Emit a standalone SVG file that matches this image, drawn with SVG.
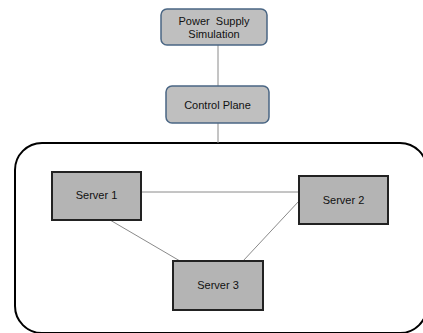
<svg xmlns="http://www.w3.org/2000/svg" width="423" height="333" viewBox="0 0 423 333">
<style>
.top{fill:#bfbfbf;stroke:#4a6684;stroke-width:1.5}
.srv{fill:#b4b4b4;stroke:#222;stroke-width:2}
.lbl{font-family:"Liberation Sans",Arial,sans-serif;font-size:11px;fill:#111;text-anchor:middle}
.con{stroke:#8a8a8a;stroke-width:1;fill:none}
</style>
<rect width="423" height="333" fill="#fff"/>
<g id="cluster">
<rect x="15" y="143" width="412" height="190" rx="27" ry="27" fill="#fff" stroke="#000" stroke-width="2"/>
</g>
<g id="connectors">
<line class="con" x1="218" y1="45" x2="218" y2="86"/>
<line class="con" x1="218" y1="123" x2="218" y2="143"/>
<line class="con" x1="141" y1="192" x2="299" y2="192"/>
<line class="con" x1="110" y1="220" x2="180" y2="261"/>
<line class="con" x1="299" y1="201" x2="243" y2="261"/>
</g>
<g id="power">
<rect class="top" x="161" y="9" width="106" height="36" rx="6"/>
<text class="lbl" x="214" y="25" xml:space="preserve">Power  Supply</text>
<text class="lbl" x="214" y="38">Simulation</text>
</g>
<g id="control">
<rect class="top" x="166" y="86" width="103" height="37" rx="6"/>
<text class="lbl" x="217.5" y="109">Control Plane</text>
</g>
<g id="server1">
<rect class="srv" x="52" y="172" width="89" height="48"/>
<text class="lbl" x="96.5" y="199">Server 1</text>
</g>
<g id="server2">
<rect class="srv" x="299" y="176" width="89" height="48"/>
<text class="lbl" x="343.5" y="204">Server 2</text>
</g>
<g id="server3">
<rect class="srv" x="173" y="261" width="90" height="49"/>
<text class="lbl" x="218" y="289">Server 3</text>
</g>
</svg>
